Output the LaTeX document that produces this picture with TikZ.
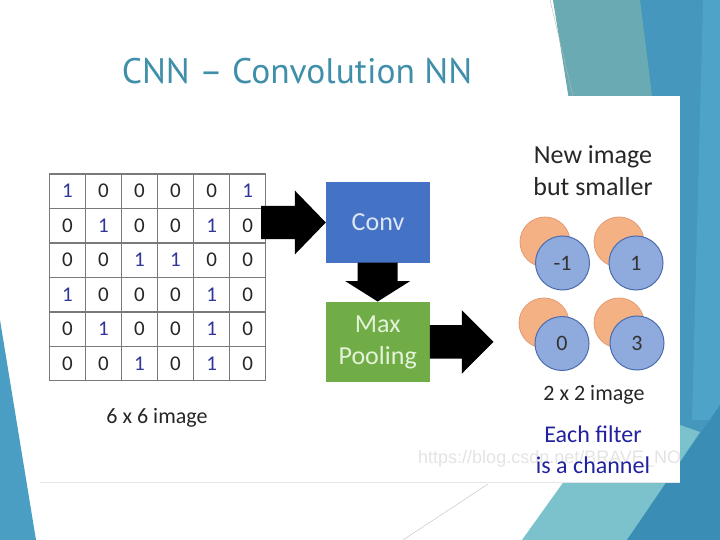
\documentclass[tikz,border=0pt]{standalone}
\usepackage{fontspec}
\setmainfont{Carlito}
\newfontfamily\titlefont{PT Sans}
\newfontfamily\wmfont{Liberation Sans}
\usetikzlibrary{calc}
\definecolor{facetblue}{HTML}{4597BD}
\definecolor{facetlite}{HTML}{4EA3C8}
\definecolor{facetteal}{HTML}{6AAAB2}
\definecolor{facetlight}{HTML}{7CC2CC}
\definecolor{facetdark}{HTML}{3A8DB5}
\definecolor{leftblue}{HTML}{4A9EC3}
\definecolor{titleblue}{HTML}{3F8FAA}
\definecolor{convblue}{HTML}{4472C4}
\definecolor{convtext}{HTML}{DDE6F6}
\definecolor{poolgreen}{HTML}{70AD47}
\definecolor{pooltext}{HTML}{E4F2DA}
\definecolor{oneblue}{HTML}{30359A}
\definecolor{gridgray}{HTML}{7A7A7A}
\definecolor{circorange}{HTML}{F4B183}
\definecolor{circorangeb}{HTML}{E49A74}
\definecolor{circblue}{HTML}{8FAADC}
\definecolor{circblueb}{HTML}{4A6CAE}
\definecolor{filterblue}{HTML}{2222A0}
\definecolor{wmgray}{HTML}{E4E4E4}
% horizontal block arrow: #1 start, #2 tip, #3 body half, #4 head half, #5 head length
\newcommand\rblockarrow[5]{%
  \fill[black] let \p1=(#1), \p2=(#2) in
    (\x1,\y2+#3) -- (\x2-#5,\y2+#3) -- (\x2-#5,\y2+#4) -- (\p2)
    -- (\x2-#5,\y2-#4) -- (\x2-#5,\y2-#3) -- (\x1,\y2-#3) -- cycle;}
% downward block arrow
\newcommand\dblockarrow[5]{%
  \fill[black] let \p1=(#1), \p2=(#2) in
    (\x2-#3,\y1) -- (\x2-#3,\y2+#5) -- (\x2-#4,\y2+#5) -- (\p2)
    -- (\x2+#4,\y2+#5) -- (\x2+#3,\y2+#5) -- (\x2+#3,\y1) -- cycle;}
\begin{document}
\begin{tikzpicture}[x=1pt,y=-1pt,
  digit/.style={font=\fontsize{21}{23}\selectfont, inner sep=0pt},
  cell0/.style={digit, text=black!85},
  cell1/.style={digit, text=oneblue},
  gridline/.style={draw=gridgray, line width=1.4pt},
  procbox/.style={minimum width=104pt, minimum height=80pt, inner sep=0pt, align=center,
    font=\fontsize{26}{32}\selectfont},
  caption/.style={font=\fontsize{22}{26}\selectfont, text=black!85, inner sep=0pt},
  orangec/.style={circle, fill=circorange, draw=circorangeb, line width=0.8pt, minimum size=50pt, inner sep=0pt},
  bluec/.style={circle, fill=circblue, draw=circblueb, line width=1pt, minimum size=54pt, inner sep=0pt,
    font=\fontsize{22}{24}\selectfont, text=black!80},
]
\useasboundingbox (0,0) rectangle (720,540);
\fill[white] (0,0) rectangle (720,540);
% ---- slide background facets ----
\fill[facetblue] (640,0) -- (720,0) -- (720,540) -- (600,540) -- cycle;
\fill[facetlite] (703,0) -- (720,0) -- (720,420) -- (692,420) -- cycle;
\fill[facetteal] (553,0) -- (640,0) -- (665,200) -- (585,200) -- cycle;
\draw[gray!55, line width=0.4pt] (550,0) -- (573,96);
\fill[facetlight] (522,540) -- (590,445) -- (680,425) -- (700,432) -- (627,540) -- cycle;
\fill[facetdark] (627,540) -- (720,405) -- (720,540) -- cycle;
\fill[leftblue] (0,320) -- (36,540) -- (0,540) -- cycle;
\draw[gray!50, line width=0.4pt] (403,540) -- (488,484);
% ---- title ----
\node[font=\titlefont\fontsize{35.5}{40}\selectfont, text=titleblue] (title) at (297,71) {CNN – Convolution NN};
% ---- embedded picture ----
\fill[white] (40,96) rectangle (680,482);
\draw[gray!20, line width=0.6pt] (40,482) -- (680,482);
% grid
\def\gx{49.3}\def\gy{174}\def\cw{36.07}\def\ch{34.45}
\foreach \i in {0,...,6} {
  \draw[gridline] ({\gx+\i*\cw},\gy) -- ({\gx+\i*\cw},{\gy+6*\ch});
  \draw[gridline] (\gx,{\gy+\i*\ch}) -- ({\gx+6*\cw},{\gy+\i*\ch});
}
\foreach \row [count=\r] in {{1,0,0,0,0,1},{0,1,0,0,1,0},{0,0,1,1,0,0},{1,0,0,0,1,0},{0,1,0,0,1,0},{0,0,1,0,1,0}} {
  \foreach \v [count=\c] in \row {
    \node[cell\v] (g-\r-\c) at ({\gx+(\c-0.5)*\cw},{\gy+(\r-0.5)*\ch}) {\v};
  }
}
\node[caption] (six) at (157,418) {6 x 6 image};
% process boxes
\node[procbox, fill=convblue, text=convtext] (conv) at (378,222.5) {Conv};
\node[procbox, fill=poolgreen, text=pooltext, minimum height=80.3pt] (pool) at (377.7,341.9) {Max\\Pooling};
\coordinate (gridout) at (261,222.5);
\coordinate (result) at (493.5,341.9);
\rblockarrow{gridout}{conv.west}{16.5pt}{32pt}{31pt}
\dblockarrow{conv.south}{pool.north}{20pt}{32.5pt}{20.5pt}
\rblockarrow{pool.east}{result}{16.7pt}{31.7pt}{31.6pt}
% output side
\node[caption, font=\fontsize{26}{31.7}\selectfont, align=center] (newimg) at (593,171) {New image\\but smaller};
\node[orangec] (o1) at (545,242) {};
\node[bluec] (b1) at (562.5,263) {-1};
\node[orangec] (o2) at (619,242) {};
\node[bluec] (b2) at (636,263) {1};
\node[orangec] (o3) at (544,323) {};
\node[bluec] (b3) at (562,343.5) {0};
\node[orangec] (o4) at (619,323) {};
\node[bluec] (b4) at (637,343) {3};
\node[caption] (two) at (594,395) {2 x 2 image};
\begin{scope}
  \clip (40,96) rectangle (680,482);
  \node[anchor=west, font=\wmfont\fontsize{18}{20}\selectfont, text=wmgray, inner sep=0pt] (wm) at (418,459) {https://blog.csdn.net/BRAVE\_NO};
\end{scope}
\node[font=\fontsize{24}{31.5}\selectfont, text=filterblue, align=center, inner sep=0pt] (filt) at (593,450) {Each filter\\is a channel};
\end{tikzpicture}
\end{document}
